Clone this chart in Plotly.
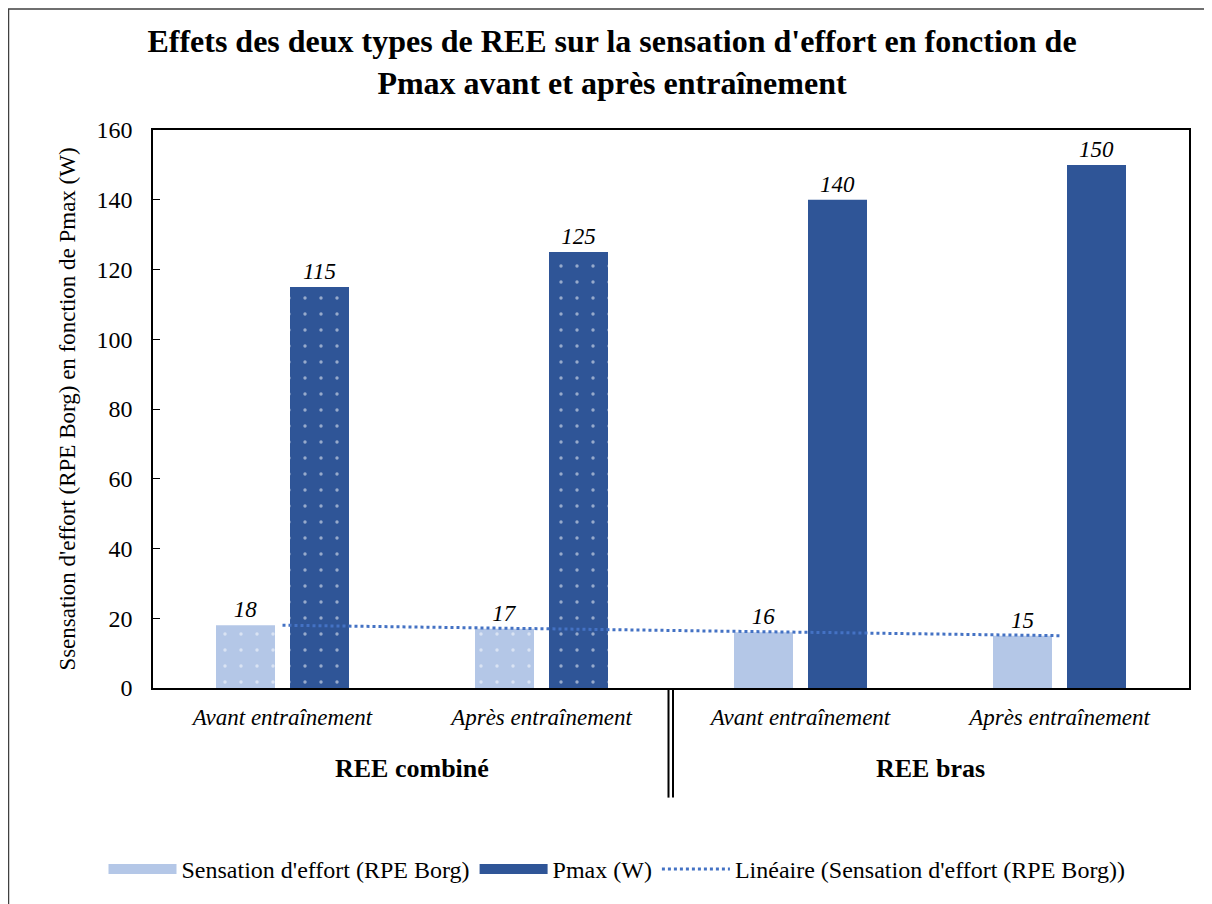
import numpy as np
import plotly.graph_objects as go

categories = ["Avant entraînement", "Après entraînement", "Avant entraînement", "Après entraînement"]
groups = ["REE combiné", "REE bras"]
rpe = [18, 17, 16, 15]
pmax = [115, 125, 140, 150]
patterns = [".", ".", "", ""]

x = np.arange(len(categories))
serif = "Liberation Serif, Times New Roman, serif"
light = "#B4C7E7"
dark = "#2F5597"
trend_color = "#4472C4"

# page is drawn with an 8px body margin: screen px = figure px + 8
OFF = 8
W, H = 1212 - OFF, 904 - OFF
PL, PR, PT, PB = 153, 1189, 130, 690  # plot area in screen pixels
L, T = PL - OFF, PT - OFF
pw, ph = PR - PL, PB - PT
R, B = W - L - pw, H - T - ph
def px(p): return (p - PL) / pw
def py(p): return (PB - p) / ph

lab_font = dict(family=serif, size=23, color="black", style="italic")
fig = go.Figure()
fig.add_trace(go.Bar(
    x=x, y=rpe, name="Sensation d'effort (RPE Borg)", showlegend=False,
    marker=dict(color=light, line=dict(width=0),
                pattern=dict(shape=patterns, fgcolor="white", size=16, solidity=0.035)),
    text=[str(v) for v in rpe], textposition="outside", textfont=lab_font, cliponaxis=False,
))
fig.add_trace(go.Bar(
    x=x, y=pmax, name="Pmax (W)", showlegend=False,
    marker=dict(color=dark, line=dict(width=0),
                pattern=dict(shape=patterns, fgcolor="white", size=16, solidity=0.035)),
    text=[str(v) for v in pmax], textposition="outside", textfont=lab_font, cliponaxis=False,
))
coef = np.polyfit(x, rpe, 1)
fig.add_trace(go.Scatter(
    x=x, y=np.polyval(coef, x), mode="lines", showlegend=False,
    name="Linéaire (Sensation d'effort (RPE Borg))",
    line=dict(color=trend_color, width=3, dash="dot"),
))
# legend keys (wide blocks like the original)
fig.add_trace(go.Scatter(x=[None], y=[None], mode="lines", name="Sensation d'effort (RPE Borg)",
                         line=dict(color=light, width=13)))
fig.add_trace(go.Scatter(x=[None], y=[None], mode="lines", name="Pmax (W)",
                         line=dict(color=dark, width=13)))
fig.add_trace(go.Scatter(x=[None], y=[None], mode="lines",
                         name="Linéaire (Sensation d'effort (RPE Borg))",
                         line=dict(color=trend_color, width=3, dash="dot")))

fig.update_layout(
    width=W, height=H,
    margin=dict(l=L, r=R, t=T, b=B),
    paper_bgcolor="white", plot_bgcolor="white",
    barmode="group", bargap=0.4286, bargroupgap=0.2027,
    font=dict(family=serif, size=18, color="black"),
    title=dict(
        text="<b>Effets des deux types de REE sur la sensation d'effort en fonction de<br>Pmax avant et après entraînement</b>",
        x=(612 - OFF) / W, xanchor="center", y=1 - (52 - OFF) / H, yanchor="middle",
        font=dict(family=serif, size=32, color="black"),
    ),
    xaxis=dict(
        tickvals=list(x), ticktext=[f"<i>{c}</i>" for c in categories],
        range=[-0.5, 3.5], showline=True, linecolor="black", linewidth=1.5, mirror=True,
        ticks="", showgrid=False, zeroline=False, tickfont=dict(size=23),
        ticklabelstandoff=8,
    ),
    yaxis=dict(
        range=[0, 160], dtick=20, showline=True, linecolor="black", linewidth=1.5, mirror=True,
        ticks="inside", ticklen=7, tickcolor="black", tickwidth=1.2,
        showgrid=False, zeroline=False, tickfont=dict(size=24), ticklabelstandoff=14,
        title=dict(text="Ssensation d'effort (RPE Borg) en fonction de Pmax (W)",
                   font=dict(size=23), standoff=14),
    ),
    legend=dict(orientation="h", x=px(617), xanchor="center", y=py(872), yanchor="middle",
                font=dict(size=24), traceorder="normal", itemwidth=68),
    showlegend=True,
)

fig.add_annotation(x=0.5, y=py(771), xref="x", yref="paper", yanchor="middle",
                   text=f"<b>{groups[0]}</b>", showarrow=False, font=dict(size=26, family=serif))
fig.add_annotation(x=2.5, y=py(771), xref="x", yref="paper", yanchor="middle",
                   text=f"<b>{groups[1]}</b>", showarrow=False, font=dict(size=26, family=serif))
for xp in (668.5, 673):
    fig.add_shape(type="line", xref="paper", yref="paper", x0=px(xp), x1=px(xp),
                  y0=py(690), y1=py(800), line=dict(color="black", width=2))
# outer frame (only top and left edges are visible in the original)
fig.add_shape(type="rect", xref="paper", yref="paper", x0=px(OFF + 0.5), x1=px(1240),
              y0=py(940), y1=py(OFF + 0.5), line=dict(color="#404040", width=1.5), layer="below")

fig.write_html("out.html")
